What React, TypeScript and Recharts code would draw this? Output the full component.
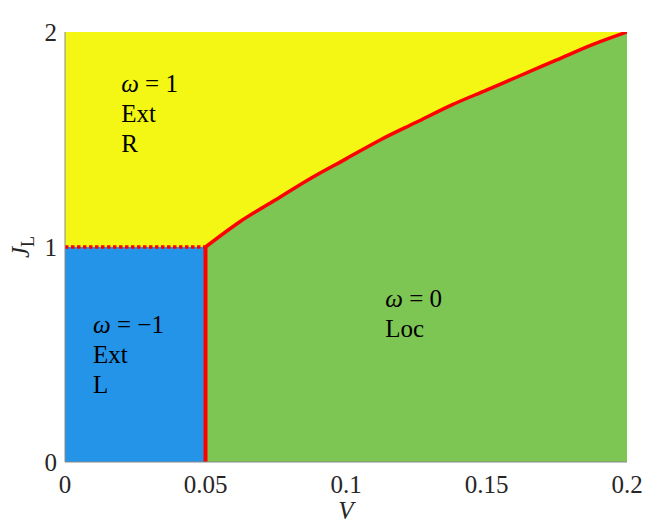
import React from 'react';
import { ComposedChart, XAxis, YAxis, Area, Line, Scatter } from 'recharts';

// Phase boundary
const curveV = [0.05, 0.0625, 0.075, 0.0875, 0.1, 0.1125, 0.125, 0.1375, 0.15, 0.1625, 0.175, 0.1875, 0.2];
const curveJ = [1, 1.12, 1.22, 1.32, 1.41, 1.5, 1.58, 1.66, 1.73, 1.8, 1.87, 1.94, 2];

// Region extents
const extRV = [0, 0.2];
const extRJ = [2, 2];
const extLV = [0, 0.05];
const extLJ = [1, 1];
const wallV = [0.05, 0.05];
const wallJ = [0, 1];
const dotV = [0, 0.05];
const dotJ = [1, 1];

const xTicks = [0, 0.05, 0.1, 0.15, 0.2];
const yTicks = [0, 1, 2];

// Annotations
const annoV = [0.02, 0.01, 0.114];
const annoJ = [1.62, 0.5, 0.69];
const annoOmega = ['1', '\u22121', '0'];
const annoLines = [['Ext', 'R'], ['Ext', 'L'], ['Loc']];

const toPts = (vs: number[], js: number[]) => vs.map((v, i) => ({ V: v, J: js[i] }));

const curveData = toPts(curveV, curveJ);
const extRData = toPts(extRV, extRJ);
const extLData = toPts(extLV, extLJ);
const wallData = toPts(wallV, wallJ);
const dotData = toPts(dotV, dotJ);
const annoData = annoV.map((v, i) => ({ V: v, J: annoJ[i], omega: annoOmega[i], lines: annoLines[i] }));

const FONT = 'Liberation Serif, serif';
const FS = 25;
const YELLOW = '#F3F713';
const BLUE = '#2394E8';
const GREEN = '#7DC653';
const RED = '#FF0000';
const FRAME = '#8a8a8a';

const AnnoShape = (props: any) => {
  const { cx, cy, payload } = props;
  const all = [null, ...payload.lines];
  const n = all.length;
  const step = 30;
  return (
    <g>
      {all.map((l: any, i: number) => {
        const y = cy + (i - (n - 1) / 2) * step;
        if (l === null) {
          return (
            <text key={i} x={cx} y={y} dy="0.35em" style={{ fontFamily: FONT, fontSize: FS }} fill="#000">
              <tspan fontStyle="italic">ω</tspan>
              <tspan> = {payload.omega}</tspan>
            </text>
          );
        }
        return (
          <text key={i} x={cx} y={y} dy="0.35em" style={{ fontFamily: FONT, fontSize: FS }} fill="#000">
            {l}
          </text>
        );
      })}
    </g>
  );
};

const tickStyle = { fontSize: FS, fill: '#262626', style: { fontFamily: FONT } };

export default function App() {
  return (
    <div style={{ position: 'absolute', left: 0, top: 0, fontFamily: FONT }}>
      <ComposedChart
        width={657}
        height={527}
        margin={{ top: 32, right: 30, bottom: 0, left: 0 }}
        style={{ fontFamily: FONT }}
      >
        <XAxis
          dataKey="V"
          type="number"
          domain={[0, 0.2]}
          ticks={xTicks}
          tick={tickStyle}
          tickSize={0}
          tickMargin={13}
          height={65}
          axisLine={{ stroke: FRAME }}
          allowDataOverflow
          label={(p: any) => {
            const vb = p.viewBox;
            return (
              <text x={vb.x + vb.width / 2} y={519} textAnchor="middle" style={{ fontFamily: FONT, fontSize: FS, fontStyle: 'italic' }} fill="#262626">
                V
              </text>
            );
          }}
        />
        <XAxis
          xAxisId="top"
          orientation="top"
          dataKey="V"
          type="number"
          domain={[0, 0.2]}
          tick={false}
          tickLine={false}
          height={0}
          axisLine={{ stroke: FRAME }}
          label={(p: any) => {
            const vb = p.viewBox;
            return (
              <text x={vb.x + vb.width / 2} y={vb.y - 12} textAnchor="middle" style={{ fontFamily: FONT, fontSize: FS, fontStyle: 'italic' }} fill="#000">
                ω
              </text>
            );
          }}
        />
        <YAxis
          dataKey="J"
          type="number"
          domain={[0, 2]}
          ticks={yTicks}
          tick={tickStyle}
          tickSize={0}
          tickMargin={8}
          width={65}
          axisLine={{ stroke: FRAME }}
          allowDataOverflow
          label={(p: any) => {
            const vb = p.viewBox;
            const cy = vb.y + vb.height / 2;
            return (
              <text transform={`translate(29, ${cy}) rotate(-90)`} textAnchor="middle" style={{ fontFamily: FONT, fontSize: FS }} fill="#262626">
                <tspan fontStyle="italic">J</tspan>
                <tspan fontSize={18} dy={5}>L</tspan>
              </text>
            );
          }}
        />
        <YAxis
          yAxisId="right"
          orientation="right"
          type="number"
          domain={[0, 2]}
          tick={false}
          tickLine={false}
          width={0}
          axisLine={{ stroke: FRAME }}
        />
        <Area data={extRData} dataKey="J" type="linear" fill={YELLOW} fillOpacity={1} stroke="none" isAnimationActive={false} />
        <Area data={extLData} dataKey="J" type="linear" fill={BLUE} fillOpacity={1} stroke="none" isAnimationActive={false} />
        <Area
          data={curveData}
          dataKey="J"
          type="monotone"
          fill={GREEN}
          fillOpacity={1}
          stroke={RED}
          strokeWidth={3.5}
          isAnimationActive={false}
        />
        <Line data={wallData} dataKey="J" type="linear" stroke={RED} strokeWidth={4} dot={false} isAnimationActive={false} />
        <Line
          data={dotData}
          dataKey="J"
          type="linear"
          stroke={RED}
          strokeWidth={3.5}
          strokeDasharray="3.5 2.5"
          dot={false}
          isAnimationActive={false}
        />
        <Scatter data={annoData} dataKey="J" shape={AnnoShape} isAnimationActive={false} />
      </ComposedChart>
    </div>
  );
}
